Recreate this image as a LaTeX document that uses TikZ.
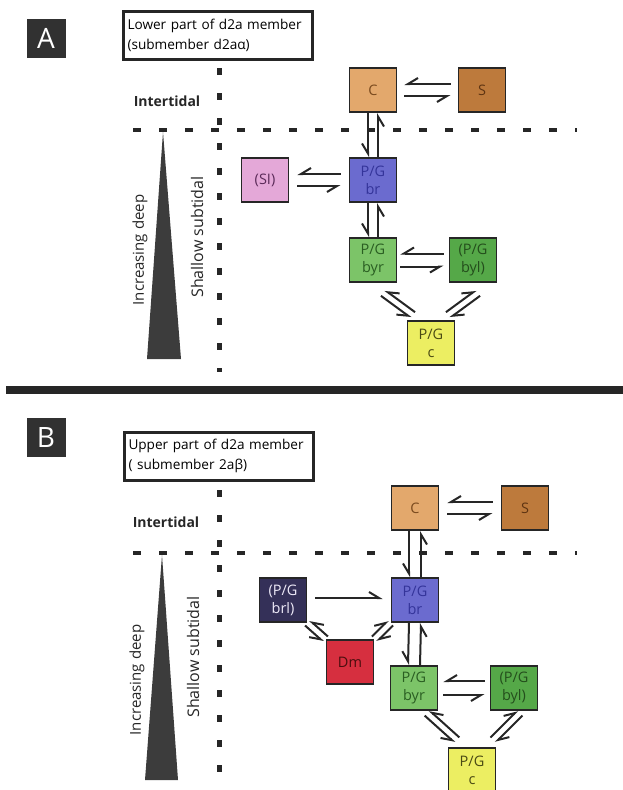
\documentclass[tikz,border=0pt]{standalone}
\usepackage{fontspec}
\setmainfont{Open Sans}
\usetikzlibrary{arrows.meta,calc}
\definecolor{cC}{HTML}{E3A86C}
\definecolor{cS}{HTML}{BD7A3C}
\definecolor{cSI}{HTML}{E4A8D8}
\definecolor{cBR}{HTML}{6B6BCF}
\definecolor{cBYR}{HTML}{7CC468}
\definecolor{cBYL}{HTML}{55A848}
\definecolor{cCc}{HTML}{ECEE62}
\definecolor{cBRL}{HTML}{343058}
\definecolor{cDM}{HTML}{D62F3F}
\definecolor{tC}{HTML}{7A4A1E}
\definecolor{tS}{HTML}{5E3412}
\definecolor{tSI}{HTML}{5A2A58}
\definecolor{tBR}{HTML}{34349A}
\definecolor{tBYR}{HTML}{2A5E22}
\definecolor{tBYL}{HTML}{244E1C}
\definecolor{tCc}{HTML}{4A4A14}
\definecolor{tBRL}{HTML}{EEEAF8}
\definecolor{tDM}{HTML}{4A0E0E}
\definecolor{ink}{HTML}{262626}
\newcommand\eqR[3][5pt]{%
  \draw[harpR] ($(#2)!#1!-90:(#3)$) -- ($(#3)!#1!90:(#2)$);
  \draw[harpR] ($(#3)!#1!-90:(#2)$) -- ($(#2)!#1!90:(#3)$);}
\newcommand\eqL[3][5pt]{%
  \draw[harpL] ($(#2)!#1!90:(#3)$) -- ($(#3)!#1!-90:(#2)$);
  \draw[harpL] ($(#3)!#1!90:(#2)$) -- ($(#2)!#1!-90:(#3)$);}
\begin{document}
\begin{tikzpicture}[x=1pt,y=-1pt,
  box/.style={draw=ink,line width=1.8pt,minimum width=47pt,minimum height=44pt,inner sep=0pt,align=center,font=\fontsize{14.5}{18}\selectfont},
  harpR/.style={draw=ink,line width=2pt,-{Straight Barb[right,length=10pt,width=12pt,line width=2pt]}},
  harpL/.style={draw=ink,line width=2pt,-{Straight Barb[left,length=10pt,width=12pt,line width=2pt]}},
  dshH/.style={draw=ink,line width=4.5pt,dash pattern=on 8pt off 18pt},
  dshV/.style={draw=ink,line width=5pt,dash pattern=on 7pt off 18pt},
  lbl/.style={fill=ink!95!white,text=white,minimum size=39pt,inner sep=0pt,font=\fontsize{28}{28}\selectfont},
  titlebox/.style={draw=ink,line width=3pt,minimum width=189pt,minimum height=48pt,text width=181pt,align=left,inner xsep=3pt,font=\fontsize{13.6}{20}\selectfont},
  zone/.style={font=\bfseries\fontsize{14}{16}\selectfont,text=ink},
  side/.style={rotate=90,text=ink},
  tri/.style={fill=ink!90!white}
]
\useasboundingbox (0,0) rectangle (623,790);

% ================= Panel A =================
\node[lbl] (labA) at (46,38) {A};
\node[titlebox] (titA) at (218,35) {Lower part of d2a member\\(submember d2aα)};
\draw[dshV] (219,68) -- (219,372);
\draw[dshH] (133,130) -- (577,130);
\node[zone] (itA) at (167,101) {Intertidal};
\fill[tri] (163,132) -- (181,359) -- (147,359) -- cycle;
\node[side,font=\fontsize{15}{16}\selectfont] (idA) at (140,250) {Increasing deep};
\node[side,font=\fontsize{16}{17}\selectfont] (ssA) at (197,237) {Shallow subtidal};

\node[box,fill=cC,text=tC] (aC) at (373,90) {C};
\node[box,fill=cS,text=tS] (aS) at (482,90) {S};
\node[box,fill=cSI,text=tSI] (aSI) at (265,180) {(SI)};
\node[box,fill=cBR,text=tBR] (abr) at (373,180) {P/G\\br};
\node[box,fill=cBYR,text=tBYR] (abyr) at (373,260) {P/G\\byr};
\node[box,fill=cBYL,text=tBYL] (abyl) at (473,260) {(P/G\\byl)};
\node[box,fill=cCc,text=tCc] (ac) at (431,343) {P/G\\c};

\coordinate (a1) at ([xshift=7pt]aC.east);
\coordinate (a2) at ([xshift=-7pt]aS.west);
\eqR[6pt]{a1}{a2}
\eqR[5pt]{aC.south}{abr.north}
\coordinate (a3) at ([xshift=8pt]aSI.east);
\coordinate (a4) at ([xshift=-8pt]abr.west);
\eqR[6pt]{a3}{a4}
\eqR[5pt]{abr.south}{abyr.north}
\coordinate (a5) at ([xshift=3pt]abyr.east);
\coordinate (a6) at ([xshift=-5pt]abyl.west);
\eqR[6.5pt]{a5}{a6}
\coordinate (a7) at ([shift={(10,33)}]abyr.center);
\coordinate (a8) at ([shift={(-18,-28)}]ac.center);
\eqR[3.5pt]{a7}{a8}
\coordinate (a9) at ([shift={(5,33)}]abyl.center);
\coordinate (a10) at ([shift={(17,-28)}]ac.center);
\eqL[3.5pt]{a9}{a10}

% separator
\draw[ink,line width=8pt] (6,390) -- (623,390);

% ================= Panel B =================
\node[lbl] (labB) at (46,437) {B};
\node[titlebox] (titB) at (219,456) {Upper part of d2a member\\( submember 2aβ)};
\draw[dshV] (219,490) -- (219,785);
\draw[dshH] (133,553) -- (577,553);
\node[zone] (itB) at (166,522) {Intertidal};
\fill[tri] (162,555) -- (178,780) -- (145,780) -- cycle;
\node[side,font=\fontsize{15}{16}\selectfont] (idB) at (137,680) {Increasing deep};
\node[side,font=\fontsize{16}{17}\selectfont] (ssB) at (193,657) {Shallow subtidal};

\node[box,fill=cC,text=tC] (bC) at (415,508) {C};
\node[box,fill=cS,text=tS] (bS) at (525,508) {S};
\node[box,fill=cBRL,text=tBRL] (bbrl) at (283,600) {(P/G\\brl)};
\node[box,fill=cBR,text=tBR] (bbr) at (415,600) {P/G\\br};
\node[box,fill=cDM,text=tDM] (bDm) at (350,662) {Dm};
\node[box,fill=cBYR,text=tBYR] (bbyr) at (414,688) {P/G\\byr};
\node[box,fill=cBYL,text=tBYL] (bbyl) at (514,688) {(P/G\\byl)};
\node[box,fill=cCc,text=tCc] (bc) at (472,770) {P/G\\c};

\coordinate (b1) at ([xshift=8pt]bC.east);
\coordinate (b2) at ([xshift=-8pt]bS.west);
\eqR[6pt]{b1}{b2}
\eqR[6pt]{bC.south}{bbr.north}
\draw[harpL] ([xshift=8pt,yshift=2pt]bbrl.east) -- ([xshift=-8pt,yshift=2pt]bbr.west);
\eqR[3.5pt]{bbrl.south east}{bDm.north west}
\eqL[3.5pt]{bDm.north east}{bbr.south west}
\eqR[6pt]{bbr.south}{bbyr.north}
\coordinate (b3) at ([xshift=5pt]bbyr.east);
\coordinate (b4) at ([xshift=-5pt]bbyl.west);
\eqR[7pt]{b3}{b4}
\coordinate (b5) at ([shift={(13,25)}]bbyr.center);
\coordinate (b6) at ([shift={(-15,-30)}]bc.center);
\eqR[3.5pt]{b5}{b6}
\coordinate (b7) at ([shift={(6,25)}]bbyl.center);
\coordinate (b8) at ([shift={(21,-30)}]bc.center);
\eqL[3.5pt]{b7}{b8}
\end{tikzpicture}
\end{document}
